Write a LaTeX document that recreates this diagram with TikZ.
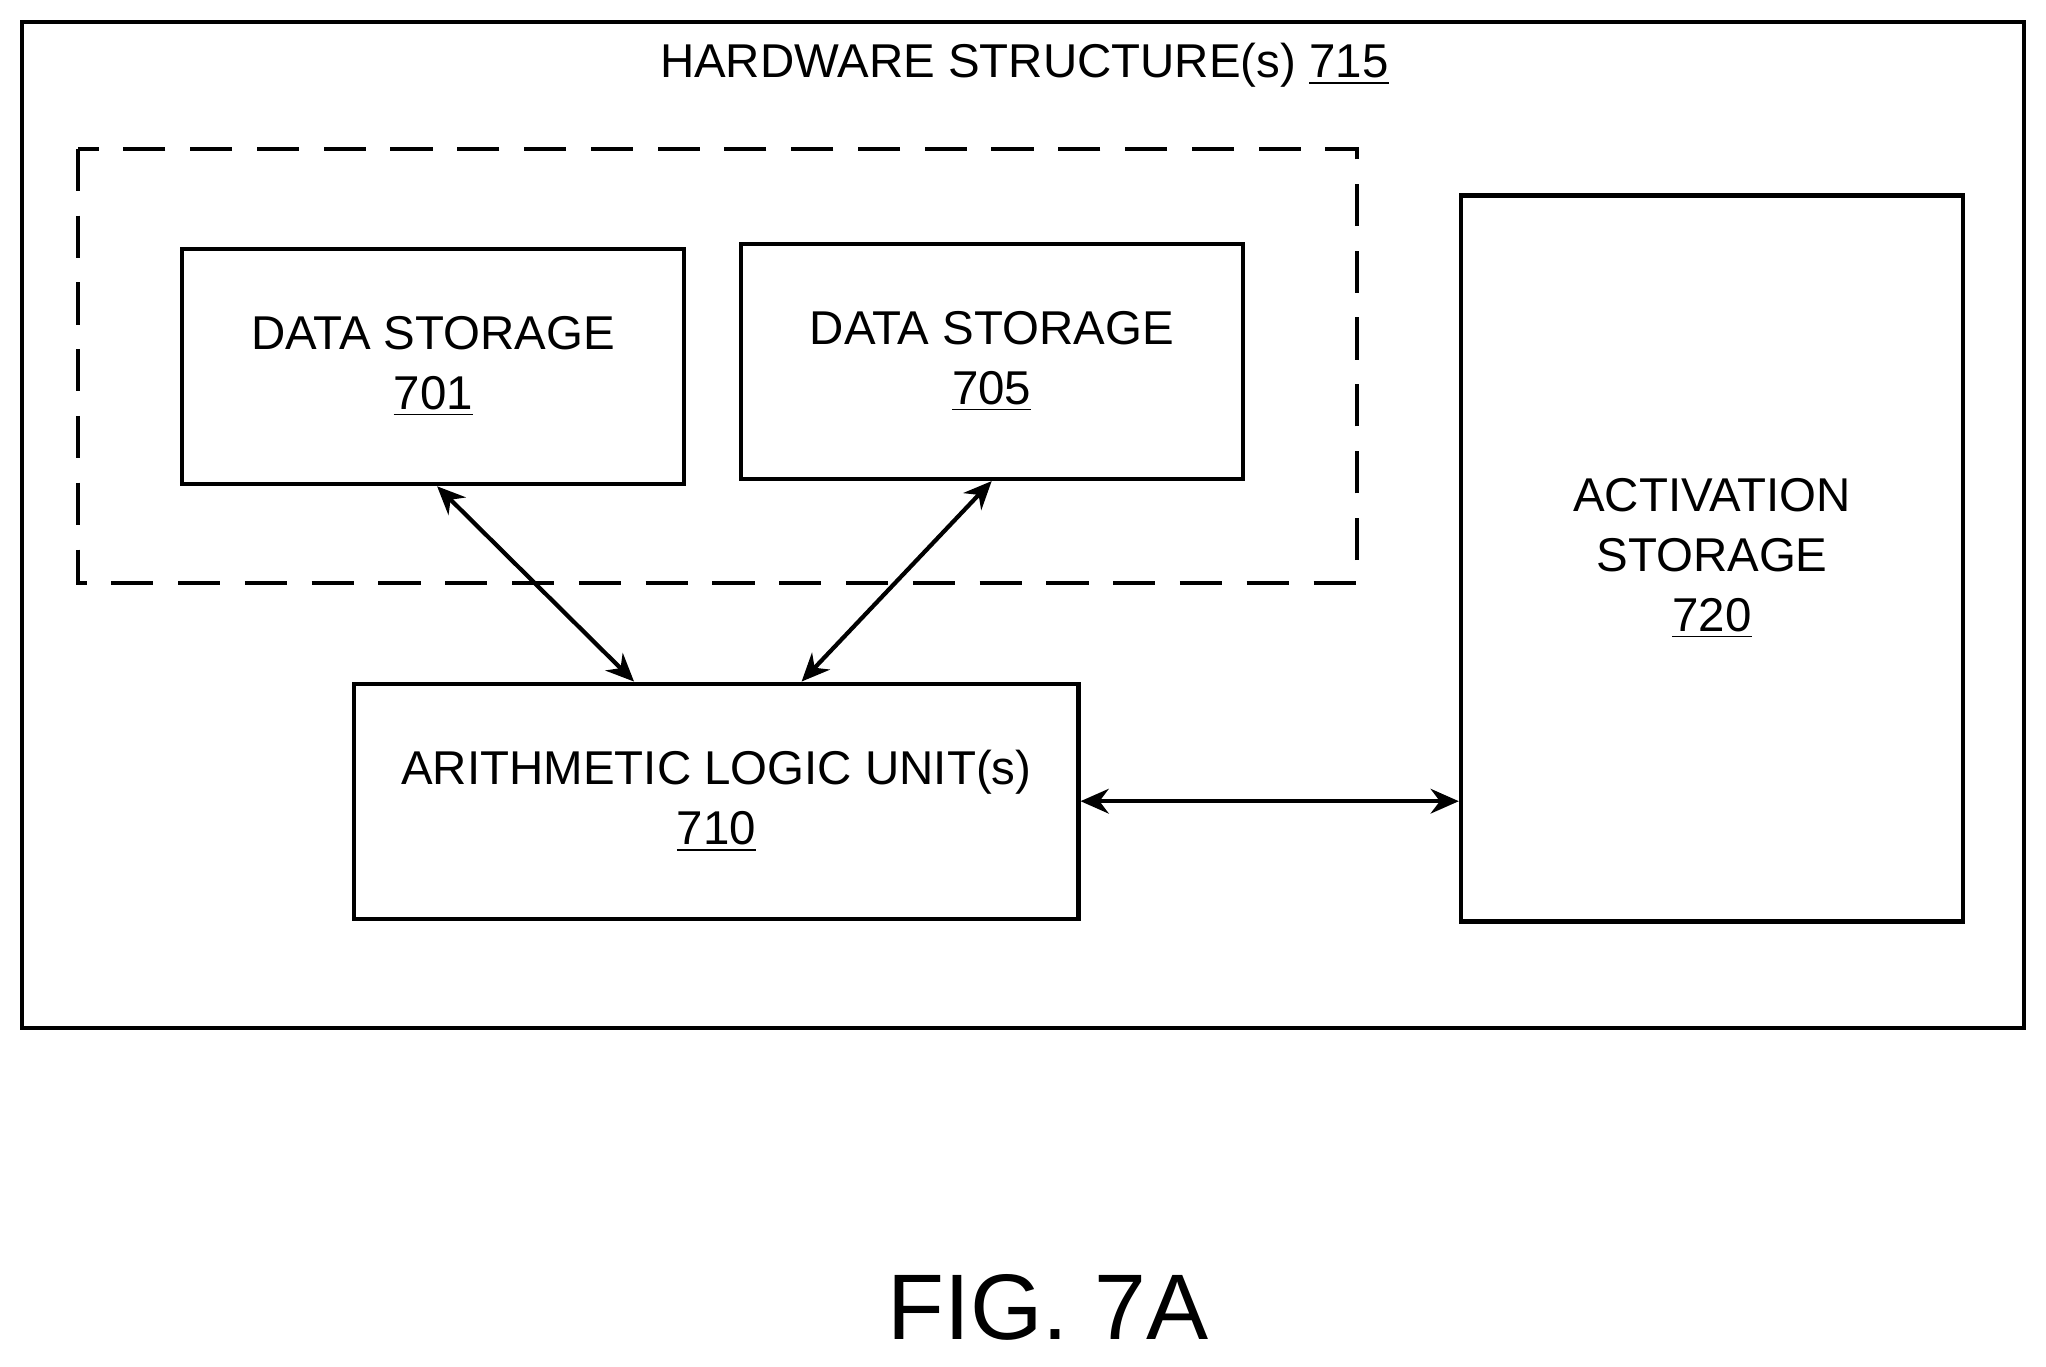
\documentclass[tikz,border=0pt]{standalone}
\usepackage{fontspec}
\setmainfont{Liberation Sans}
\usetikzlibrary{arrows.meta,calc}
\tikzset{
  box/.style={draw,line width=1.2pt,align=center,font=\fontsize{13.5}{17}\selectfont},
  link/.style={line width=1.2pt,{Stealth[length=8pt,width=7pt]}-{Stealth[length=8pt,width=7pt]}}
}
\begin{document}
\begin{tikzpicture}[x=0.01305cm,y=-0.01305cm]
\useasboundingbox (0,0) rectangle (1568,1047);
% outer frame and group
\draw[line width=1.2pt] (17,17) rectangle (1551,788);
\node[font=\fontsize{13.5}{17}\selectfont] (title) at (785,50) {HARDWARE STRUCTURE(s) \underline{715}};
\draw[line width=1.2pt,dash pattern=on 12pt off 7pt] (60,114) rectangle (1040,447);
% storage and units
\node[box,minimum width=5.02cm,minimum height=2.35cm] (ds1) at (332,281) {DATA STORAGE\\\underline{701}};
\node[box,minimum width=5.02cm,minimum height=2.35cm] (ds2) at (760,277) {DATA STORAGE\\\underline{705}};
\node[box,minimum width=7.24cm,minimum height=2.35cm] (alu) at (549,614) {ARITHMETIC LOGIC UNIT(s)\\\underline{710}};
\node[box,minimum width=5.02cm,minimum height=7.26cm] (act) at (1312,428) {};
\node[align=center,font=\fontsize{13.5}{17}\selectfont] (actlabel) at (1312,428) {ACTIVATION\\STORAGE\\\underline{720}};
% connectors
\draw[link] ($(ds1.south)+(3,0)$) -- ($(alu.north west)!0.387!(alu.north east)$);
\draw[link] (ds2.south) -- ($(alu.north west)!0.617!(alu.north east)$);
\draw[link] (alu.east) -- (alu.east -| act.west);
\node[font=\fontsize{26.5}{30}\selectfont] (fig) at (803,1002) {FIG. 7A};
\end{tikzpicture}
\end{document}
